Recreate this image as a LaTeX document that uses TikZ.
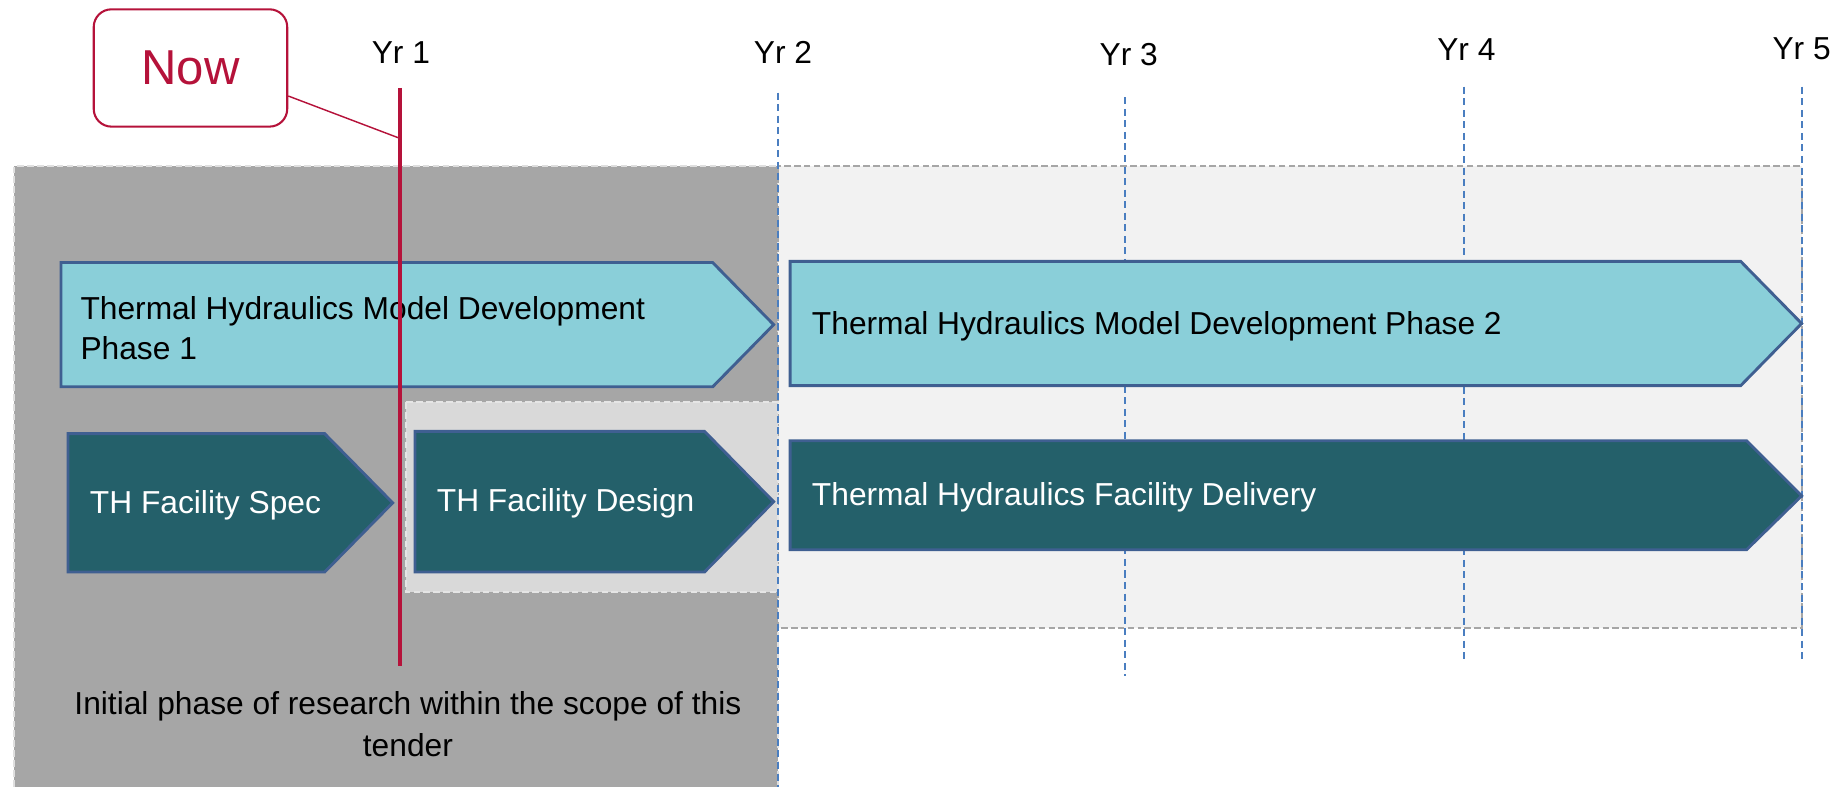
\documentclass[tikz,border=0pt]{standalone}
\usepackage{fontspec}
\setmainfont{Liberation Sans}
\usepackage{xcolor}
\usetikzlibrary{positioning}
\definecolor{areadark}{HTML}{A6A6A6}
\definecolor{arealight}{HTML}{F2F2F2}
\definecolor{areamid}{HTML}{D9D9D9}
\definecolor{phaselight}{HTML}{8ACFD9}
\definecolor{phasedark}{HTML}{24606A}
\definecolor{phaseedge}{HTML}{3F5F91}
\definecolor{yrblue}{HTML}{4A7EC0}
\definecolor{nowred}{HTML}{B5123A}

\begin{document}
\begin{tikzpicture}[x=0.01cm, y=-0.01cm,
  lbl/.style={font=\fontsize{7.7pt}{9.8pt}\selectfont, inner sep=0pt},
  yearline/.style={draw=yrblue, line width=0.5pt, dash pattern=on 1.7pt off 1.1pt},
  phase/.style={draw=phaseedge, line width=0.7pt},
  areaedge/.style={dash pattern=on 1.6pt off 0.8pt, line width=0.5pt}]
\useasboundingbox (0,0) rectangle (1568,671);
% shaded areas
\fill [areadark] (12,142) rectangle (664,671);
\draw [areaedge, draw=gray!25] (12,671) -- (12,142) -- (664,142) -- (664,671);
\filldraw [areaedge, fill=arealight, draw=areadark] (664,142) rectangle (1537,536);
\filldraw [areaedge, fill=areamid, draw=gray!20] (346,343) rectangle (664,505);
% years
\node [lbl] (yr1) at (342,45) {Yr 1};
\node [lbl] (yr2) at (668,45) {Yr 2};
\node [lbl] (yr3) at (963,47) {Yr 3};
\node [lbl] (yr4) at (1251,42) {Yr 4};
\node [lbl] (yr5) at (1537,42) {Yr 5};
\draw [yearline] (664,79) -- (664,671);
\draw [yearline] (960,83) -- (960,577);
\draw [yearline] (1249,74) -- (1249,563);
\draw [yearline] (1537,74) -- (1537,563);
% phases
\filldraw [phase, fill=phaselight] (52,224) -- (608,224) -- (660,277) -- (608,330) -- (52,330) -- cycle;
\filldraw [phase, fill=phaselight] (674,223) -- (1485,223) -- (1537,276) -- (1485,329) -- (674,329) -- cycle;
\filldraw [phase, fill=phasedark] (58,370) -- (277,370) -- (335,429) -- (277,488) -- (58,488) -- cycle;
\filldraw [phase, fill=phasedark] (354,368) -- (601,368) -- (660,428) -- (601,488) -- (354,488) -- cycle;
\filldraw [phase, fill=phasedark] (674,376) -- (1490,376) -- (1537,423) -- (1490,469) -- (674,469) -- cycle;
\node [lbl, anchor=west, align=left] (th1) at (68,280) {Thermal Hydraulics Model Development\\Phase 1};
\node [lbl, anchor=west] (th2) at (692,278) {Thermal Hydraulics Model Development Phase 2};
\node [lbl, anchor=west, text=white] (spec) at (76,431) {TH Facility Spec};
\node [lbl, anchor=west, text=white] (design) at (372,429) {TH Facility Design};
\node [lbl, anchor=west, text=white] (delivery) at (692,424) {Thermal Hydraulics Facility Delivery};
\node [lbl, align=center, font=\fontsize{7.7pt}{10.2pt}\selectfont] (scope) at (348,618) {Initial phase of research within the scope of this\\tender};
% now marker
\coordinate (nowtop) at (341,75);
\coordinate (nowpin) at (341,118);
\coordinate (nowbot) at (341,568);
\draw [nowred, line width=0.95pt] (nowtop) -- (nowbot);
\node [draw=nowred, fill=white, text=nowred, line width=0.5pt, rounded corners=4.3pt,
  minimum width=1.65cm, minimum height=1cm, font=\fontsize{11.9pt}{14pt}\selectfont] (now) at (162.5,58) {Now};
\draw [nowred, line width=0.35pt] (now.-16) -- (nowpin);
\end{tikzpicture}
\end{document}
